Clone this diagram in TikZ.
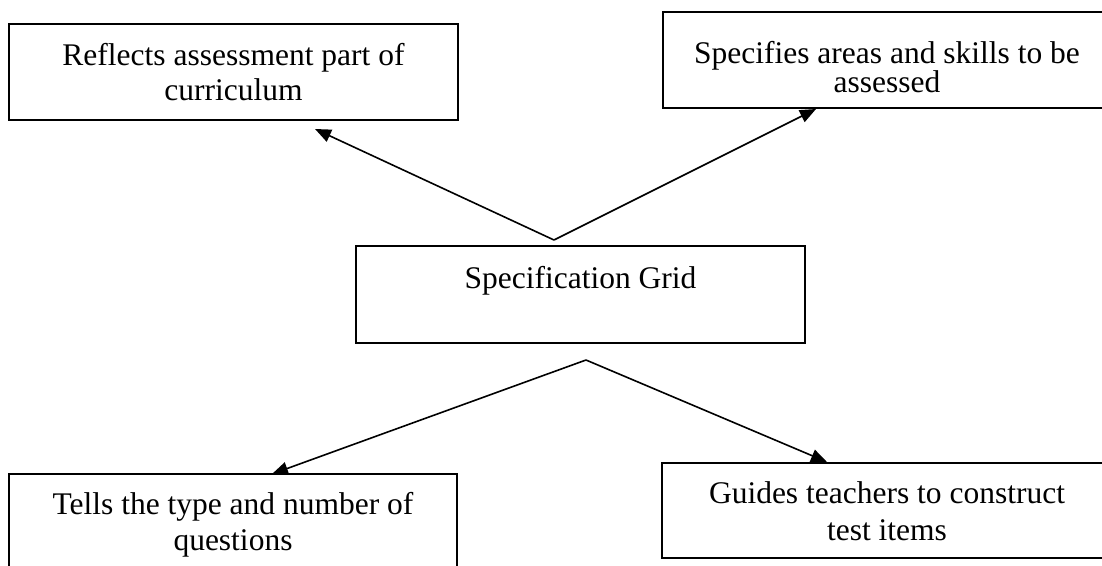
\documentclass[tikz,border=0pt]{standalone}
\usepackage{fontspec}
\setmainfont{Liberation Serif}
\usetikzlibrary{arrows.meta}
\begin{document}
\begin{tikzpicture}[x=1pt,y=-1pt,
  boxstyle/.style={draw=black, line width=2pt, rectangle, inner sep=0pt},
  txt/.style={anchor=base, inner sep=0pt, font=\fontsize{31.5}{36}\selectfont},
  conn/.style={line width=1.6pt, -{Triangle[length=16pt,width=13pt]}}]
\useasboundingbox (0,0) rectangle (1102,565);
\clip (0,0) rectangle (1102,565);
% boxes
\node[boxstyle, minimum width=449pt, minimum height=96pt] (tl) at (233.5,72) {};
\node[boxstyle, minimum width=449pt, minimum height=96pt] (tr) at (887.5,60) {};
\node[boxstyle, minimum width=449pt, minimum height=97pt] (ctr) at (580.5,294.5) {};
\node[boxstyle, minimum width=448pt, minimum height=96pt] (bl) at (233,522) {};
\node[boxstyle, minimum width=450pt, minimum height=95pt] (br) at (887,510.5) {};
% texts
\node[txt] (tl1) at (233.5,65) {Reflects assessment part of};
\node[txt] (tl2) at (233.5,100) {curriculum};
\node[txt] (tr1) at (887,63) {Specifies areas and skills to be};
\node[txt] (tr2) at (887,92) {assessed};
\node[txt] (c1) at (580.5,288) {Specification Grid};
\node[txt] (bl1) at (233,514) {Tells the type and number of};
\node[txt] (bl2) at (233,550) {questions};
\node[txt] (br1) at (887,503) {Guides teachers to construct};
\node[txt] (br2) at (887,540) {test items};
% connector points
\coordinate (apexT) at (554,240);
\coordinate (apexB) at (586,360);
\coordinate (tipTL) at (315,129);
\coordinate (tipTR) at (816,109);
\coordinate (tipBL) at (272,474);
\coordinate (tipBR) at (827,462);
\draw[conn] (apexT) -- (tipTL);
\draw[conn] (apexT) -- (tipTR);
\draw[conn] (apexB) -- (tipBL);
\draw[conn] (apexB) -- (tipBR);
\end{tikzpicture}
\end{document}
